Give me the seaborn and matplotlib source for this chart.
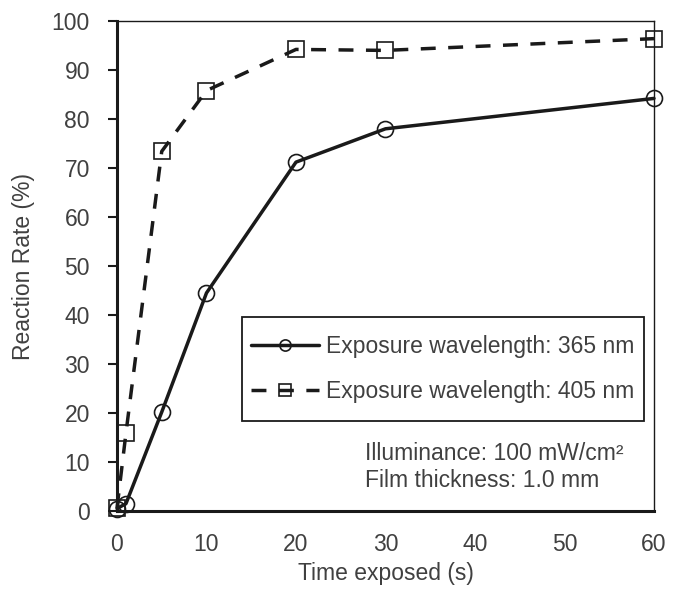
import matplotlib
matplotlib.use("Agg")
import matplotlib.pyplot as plt
from matplotlib.patches import Rectangle
import seaborn as sns
import pandas as pd

# exposure time (s) vs reaction rate (%)
times = [0, 1, 5, 10, 20, 30, 60]
rate_365 = [0.5, 1.5, 20.2, 44.5, 71.2, 78.0, 84.2]
rate_405 = [0.6, 15.9, 73.4, 85.8, 94.2, 94.0, 96.4]
labels = ["Exposure wavelength: 365 nm", "Exposure wavelength: 405 nm"]
x_ticks = [0, 10, 20, 30, 40, 50, 60]
y_ticks = [0, 10, 20, 30, 40, 50, 60, 70, 80, 90, 100]
notes = ["Illuminance: 100 mW/cm\u00b2", "Film thickness: 1.0 mm"]

sns.set_style("ticks")
plt.rcParams["font.family"] = ["Liberation Sans", "DejaVu Sans"]
txt = "#404040"
ink = "#1a1a1a"
fs = 16.5

df = pd.DataFrame({"t": times, "r365": rate_365, "r405": rate_405})

fig, ax = plt.subplots(figsize=(6.85, 6.0), dpi=100)
fig.subplots_adjust(left=0.1708, right=0.9547, top=0.965, bottom=0.1483)

sns.lineplot(data=df, x="t", y="r365", ax=ax, color=ink, linewidth=2.5,
             marker="o", markersize=11.5, markerfacecolor="none",
             markeredgecolor=ink, markeredgewidth=1.2, clip_on=False,
             label=labels[0], legend=False)
sns.lineplot(data=df, x="t", y="r405", ax=ax, color=ink, linewidth=2.5,
             linestyle=(0, (4.3, 3.6)), marker="s", markersize=11.5,
             markerfacecolor="none", markeredgecolor=ink,
             markeredgewidth=1.2, clip_on=False,
             label=labels[1], legend=False)

ax.set_xlim(0, 60)
ax.set_ylim(0, 100)
ax.set_xticks(x_ticks)
ax.set_yticks(y_ticks)
ax.tick_params(axis="x", length=0, pad=16, labelsize=fs, labelcolor=txt)
ax.tick_params(axis="y", length=6.5, width=1.5, pad=13, labelsize=fs,
               labelcolor=txt, color=ink)
ax.set_xlabel("Time exposed (s)", fontsize=fs, color=txt, labelpad=4)
ax.set_ylabel("Reaction Rate (%)", fontsize=fs, color=txt, labelpad=12)

for side in ["left", "bottom"]:
    ax.spines[side].set_linewidth(2.2)
    ax.spines[side].set_color(ink)
for side in ["top", "right"]:
    ax.spines[side].set_visible(True)
    ax.spines[side].set_linewidth(1.0)
    ax.spines[side].set_color(ink)

leg = ax.legend(loc="upper right", bbox_to_anchor=(0.964, 0.359),
                fontsize=fs, frameon=False, handlelength=3.0,
                handletextpad=0.3, labelspacing=0.95, borderpad=0,
                borderaxespad=0, markerscale=0.7)
for t in leg.get_texts():
    t.set_color(txt)

# box round the legend: a bit more room above and below than at the sides
fig.canvas.draw()
bb = leg.get_window_extent()
px, py = 9, 18
box = Rectangle((bb.x0 - px, bb.y0 - py), bb.width + 2 * px, bb.height + 2 * py,
                transform=None, fill=False, edgecolor=ink, linewidth=1.3,
                zorder=5)
fig.add_artist(box)

ax.text(0.462, 0.118, notes[0], transform=ax.transAxes, fontsize=fs,
        color=txt, va="center", ha="left")
ax.text(0.462, 0.063, notes[1], transform=ax.transAxes, fontsize=fs,
        color=txt, va="center", ha="left")

fig.savefig("out.png", dpi=100)
